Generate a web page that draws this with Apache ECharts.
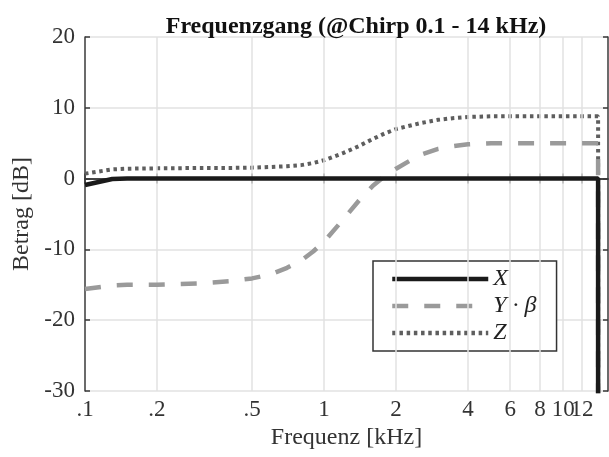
<!DOCTYPE html>
<html>
<head>
<meta charset="utf-8">
<script src="https://cdn.jsdelivr.net/npm/echarts@6/dist/echarts.min.js"></script>
<style>
  html, body { margin: 0; padding: 0; background: #fff; }
  #chart { width: 609px; height: 457px; }
</style>
</head>
<body>
<div id="chart"></div>
<script>
// frequency points in kHz
const freq = [0.1, 0.13, 0.15, 0.2, 0.3, 0.4, 0.5, 0.6, 0.7, 0.8, 0.9, 1.0, 1.2, 1.4, 1.6, 1.8, 2.0, 2.5, 3.0, 3.5, 4, 5, 6, 8, 10, 12, 14]
const magX = [-0.9, -0.05, 0, 0, 0, 0, 0, 0, 0, 0, 0, 0, 0, 0, 0, 0, 0, 0, 0, 0, 0, 0, 0, 0, 0, 0, 0]
const magY = [-15.6, -15.1, -15, -15, -14.8, -14.5, -14.1, -13.5, -12.6, -11.6, -10.3, -8.9, -5.8, -3.1, -1.0, 0.4, 1.4, 3.3, 4.2, 4.6, 4.85, 5.0, 5.0, 5.0, 5.0, 5.0, 5.0]
const magZ = [0.7, 1.3, 1.4, 1.45, 1.5, 1.5, 1.55, 1.65, 1.75, 1.9, 2.2, 2.6, 3.6, 4.6, 5.6, 6.4, 7.0, 7.8, 8.3, 8.55, 8.7, 8.8, 8.8, 8.8, 8.8, 8.8, 8.8]
// end of the chirp: everything falls off at 14 kHz
const dropFreq = 14
const dropLevel = -80

const xTicks = [0.1, 0.2, 0.5, 1, 2, 4, 6, 8, 10, 12]
// the last tick label sits on top of "10", echarts would hide one of them
const xLabelsAxis = xTicks.slice(0, -1)
const xLabelsExtra = xTicks.slice(-1)

const serif = 'Liberation Serif'
const axisColor = '#3a3a3a'
const gridColor = '#e2e2e2'
const labelStyle = { fontFamily: serif, fontSize: 23, color: '#333' }

const pairs = (vals) => freq.map((f, i) => [f, vals[i]]).concat([[dropFreq, dropLevel]])

const fmtFreq = (v) => {
  const r = +(+v).toPrecision(6)
  return r < 1 ? String(r).slice(1) : String(r)
}

const chart = echarts.init(document.getElementById('chart'))

const gridLines = xTicks.slice(1).map(v => {
  const item = { xAxis: v }
  if (xLabelsExtra.includes(v)) {
    item.label = Object.assign({ show: true, position: 'start', distance: 7, formatter: (p) => fmtFreq(p.value) }, labelStyle)
  }
  return item
})

const option = {
  animation: false,
  title: {
    text: 'Frequenzgang (@Chirp 0.1 - 14 kHz)',
    left: 351,
    textAlign: 'center',
    top: 10,
    textStyle: { fontFamily: serif, fontSize: 24, fontWeight: 'bold', color: '#111' }
  },
  grid: { left: 85, right: 1, top: 37, bottom: 66 },
  legend: {
    data: ['X', 'Y · β', 'Z'],
    orient: 'vertical',
    left: 373,
    top: 261,
    padding: [6, 20, 6, 17],
    itemWidth: 96,
    itemHeight: 14,
    itemGap: 3,
    backgroundColor: '#fff',
    borderColor: '#333',
    borderWidth: 1.5,
    itemStyle: { color: 'rgba(0,0,0,0)', borderColor: 'rgba(0,0,0,0)', borderWidth: 0, opacity: 0 },
    lineStyle: { width: 4.5 },
    textStyle: { fontFamily: serif, fontStyle: 'italic', fontSize: 24, color: '#222' }
  },
  xAxis: [
    {
      type: 'log',
      logBase: 10,
      min: 0.1,
      max: 15.4,
      z: 3,
      name: 'Frequenz [kHz]',
      nameLocation: 'middle',
      nameGap: 35,
      nameTextStyle: { fontFamily: serif, fontSize: 24, color: '#333' },
      axisLine: { lineStyle: { color: axisColor, width: 1.5 } },
      axisTick: { inside: true, length: 5, customValues: xTicks, lineStyle: { color: axisColor, width: 1.5 } },
      axisLabel: Object.assign({ customValues: xLabelsAxis, formatter: fmtFreq, margin: 7 }, labelStyle),
      splitLine: { show: false }
    },
    {
      type: 'log',
      logBase: 10,
      min: 0.1,
      max: 15.4,
      z: 3,
      position: 'top',
      axisLine: { lineStyle: { color: axisColor, width: 1.5 } },
      axisTick: { inside: true, length: 5, customValues: xTicks, lineStyle: { color: axisColor, width: 1.5 } },
      axisLabel: { show: false },
      splitLine: { show: false }
    }
  ],
  yAxis: [
    {
      type: 'value',
      min: -30,
      max: 20,
      interval: 10,
      z: 3,
      name: 'Betrag [dB]',
      nameLocation: 'middle',
      nameGap: 50,
      nameTextStyle: { fontFamily: serif, fontSize: 24, color: '#333' },
      axisLine: { show: true, lineStyle: { color: axisColor, width: 1.5 } },
      axisTick: { show: true, inside: true, length: 5, lineStyle: { color: axisColor, width: 1.5 } },
      axisLabel: Object.assign({ margin: 10 }, labelStyle),
      splitLine: { show: true, lineStyle: { color: gridColor, width: 1.5 } }
    },
    {
      type: 'value',
      min: -30,
      max: 20,
      interval: 10,
      z: 3,
      position: 'right',
      axisLine: { show: true, lineStyle: { color: axisColor, width: 1.5 } },
      axisTick: { show: true, inside: true, length: 5, lineStyle: { color: axisColor, width: 1.5 } },
      axisLabel: { show: false },
      splitLine: { show: false }
    }
  ],
  series: [
    {
      // vertical grid lines at the custom frequency ticks
      name: 'grid',
      type: 'line',
      data: [],
      z: 1,
      silent: true,
      markLine: {
        silent: true,
        symbol: 'none',
        label: { show: false },
        lineStyle: { color: gridColor, width: 1.5, type: 'solid' },
        data: gridLines
      }
    },
    {
      name: 'X',
      type: 'line',
      data: pairs(magX),
      showSymbol: false,
      z: 6,
      lineStyle: { color: '#1a1a1a', width: 4.5 },
      itemStyle: { color: '#1a1a1a' }
    },
    {
      name: 'Y · β',
      type: 'line',
      data: pairs(magY),
      showSymbol: false,
      z: 5,
      lineStyle: { color: '#9a9a9a', width: 4.5, type: [16, 16] },
      itemStyle: { color: '#9a9a9a' }
    },
    {
      name: 'Z',
      type: 'line',
      data: pairs(magZ),
      showSymbol: false,
      z: 4,
      lineStyle: { color: '#5e5e5e', width: 4, type: [3.5, 3.7] },
      itemStyle: { color: '#5e5e5e' }
    }
  ]
}

chart.setOption(option)
window.addEventListener('resize', () => chart.resize())
</script>
</body>
</html>
